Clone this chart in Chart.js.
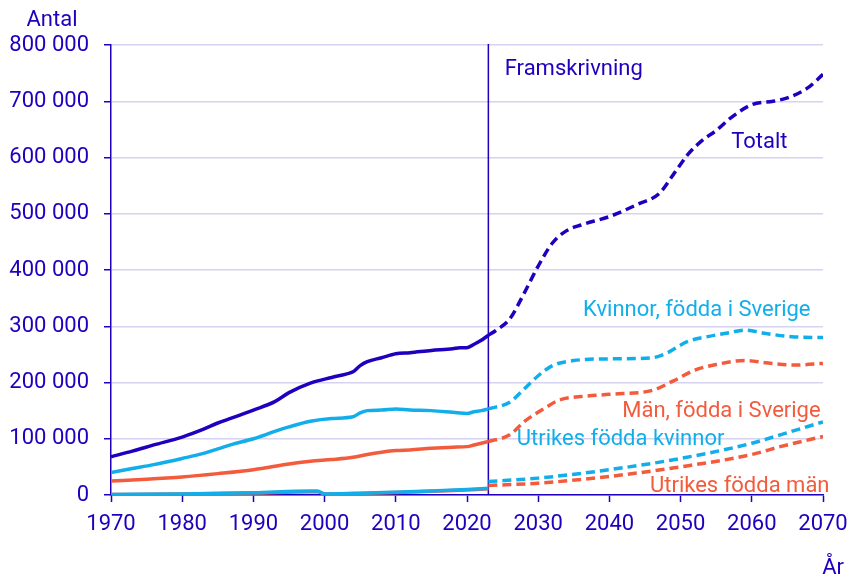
<!DOCTYPE html>
<html>
<head>
<meta charset="utf-8">
<script src="https://cdn.jsdelivr.net/npm/chart.js@4"></script>
<style>
  html, body { margin: 0; padding: 0; background: #ffffff; }
  canvas { display: block; }
</style>
</head>
<body>
<canvas id="c" width="847" height="575"></canvas>
<script>
// ---- Data ----
const xTickYears = [1970, 1980, 1990, 2000, 2010, 2020, 2030, 2040, 2050, 2060, 2070];
const yTickValues = [0, 100000, 200000, 300000, 400000, 500000, 600000, 700000, 800000];
const projectionStartYear = 2023;

// Historical (solid)
const totalHistYears  = [1970,1973,1976,1980,1983,1985,1987,1990,1993,1995,1998,2001,2003,2004,2005,2006,2008,2010,2012,2015,2018,2019,2020,2021,2022,2023];
const totalHist       = [68000,78000,89000,103000,117000,128000,137000,151000,166000,182000,199000,209000,215000,219000,230000,237000,244000,251000,253000,257000,260000,262000,262000,268000,275000,284000];

const womenHistYears  = [1970,1973,1976,1980,1983,1985,1987,1990,1993,1995,1998,2001,2004,2005,2006,2008,2010,2012,2015,2018,2020,2021,2022,2023];
const womenHist       = [40000,47000,54000,65000,74000,82000,90000,100000,113000,121000,131000,136000,139000,146000,150000,151000,153000,151000,150000,147000,145000,148000,150000,153000];

const menHistYears    = [1970,1975,1980,1985,1990,1993,1995,1998,2001,2004,2006,2008,2010,2012,2015,2018,2020,2021,2022,2023];
const menHist         = [25000,28000,32000,38000,45000,51000,55000,60000,63000,67000,72000,76000,79000,80000,83000,85000,86000,89000,92000,95000];

const fbWomenHistYears = [1970,1980,1990,1998,1999,2000,2005,2010,2015,2020,2023];
const fbWomenHist      = [1000,2000,4000,7000,7000,2000,3000,5000,7000,10000,12000];

const fbMenHistYears   = [1970,1980,1990,1998,1999,2000,2005,2010,2015,2020,2023];
const fbMenHist        = [800,1800,3500,6000,6000,1800,2800,4500,6500,9000,11000];

// Projection (dashed)
const totalProjYears  = [2023,2024,2026,2028,2030,2032,2034,2036,2040,2044,2047,2049,2051,2053,2055,2057,2060,2063,2065,2068,2070];
const totalProj       = [284000,292000,313000,358000,407000,448000,470000,480000,495000,517000,536000,570000,605000,630000,648000,670000,694000,700000,706000,725000,748000];

const womenProjYears  = [2023,2026,2028,2030,2032,2035,2040,2046,2048,2051,2054,2057,2059,2062,2066,2070];
const womenProj       = [153000,165000,188000,212000,230000,239000,242000,244000,252000,273000,282000,289000,293000,287000,281000,280000];

const menProjYears    = [2023,2026,2028,2031,2033,2036,2040,2046,2049,2052,2055,2059,2062,2066,2070];
const menProj         = [95000,107000,130000,155000,169000,175000,179000,186000,203000,222000,232000,239000,235000,231000,234000];

const fbWomenProjYears = [2023,2030,2040,2050,2060,2064,2070];
const fbWomenProj      = [24000,30000,45000,65000,92000,107000,130000];

const fbMenProjYears   = [2023,2030,2040,2050,2060,2064,2070];
const fbMenProj        = [17000,21000,33000,50000,72000,86000,104000];

// Series labels drawn in the plot (anchored in data space)
const seriesLabels     = ["Framskrivning", "Totalt", "Kvinnor, födda i Sverige", "Män, födda i Sverige", "Utrikes födda kvinnor", "Utrikes födda män"];
const seriesLabelYears = [2025.3, 2057.1, 2036.3, 2041.8, 2027.0, 2045.7];
const seriesLabelVals  = [756000, 627000, 328000, 148000, 98000, 14500];

const yAxisTitle = "Antal";
const xAxisTitle = "År";

// ---- Styling ----
const DARK = '#1e00be';
const LIGHT = '#12aeea';
const RED = '#f35b3d';
const GRID = '#d5d3f0';
const FONT = 'Roboto';
const FS = 22;
const labelColors = [DARK, DARK, LIGHT, RED, LIGHT, RED];

function pts(xs, ys) { return xs.map((x, i) => ({ x: x, y: ys[i] })); }

function ds(xs, ys, color, dashed) {
  return {
    data: pts(xs, ys),
    borderColor: color,
    backgroundColor: color,
    borderWidth: 3.5,
    borderDash: dashed ? [9, 5] : [],
    borderCapStyle: 'butt',
    pointRadius: 0,
    tension: 0.35,
    cubicInterpolationMode: 'monotone',
    fill: false
  };
}

const overlay = {
  id: 'overlay',
  beforeDatasetsDraw(chart) {
    const { ctx, chartArea, scales } = chart;
    const x = scales.x.getPixelForValue(projectionStartYear);
    ctx.save();
    ctx.strokeStyle = DARK;
    ctx.lineWidth = 1.5;
    ctx.beginPath();
    ctx.moveTo(x, chartArea.top - 1);
    ctx.lineTo(x, chartArea.bottom);
    ctx.stroke();
    ctx.restore();
  },
  afterDatasetsDraw(chart) {
    const { ctx, scales } = chart;
    ctx.save();
    ctx.font = FS + 'px ' + FONT;
    ctx.textAlign = 'left';
    ctx.textBaseline = 'middle';
    seriesLabels.forEach((t, i) => {
      ctx.fillStyle = labelColors[i];
      ctx.fillText(t, scales.x.getPixelForValue(seriesLabelYears[i]), scales.y.getPixelForValue(seriesLabelVals[i]));
    });
    ctx.restore();
  },
  afterDraw(chart) {
    const { ctx } = chart;
    ctx.save();
    ctx.font = FS + 'px ' + FONT;
    ctx.fillStyle = DARK;
    ctx.textBaseline = 'middle';
    ctx.textAlign = 'center';
    ctx.fillText(yAxisTitle, 52, 20);
    ctx.textAlign = 'right';
    ctx.textBaseline = 'alphabetic';
    ctx.fillText(xAxisTitle, 844, 574);
    ctx.restore();
  }
};

new Chart(document.getElementById('c'), {
  type: 'line',
  data: {
    datasets: [
      ds(totalProjYears, totalProj, DARK, true),
      ds(womenProjYears, womenProj, LIGHT, true),
      ds(menProjYears, menProj, RED, true),
      ds(fbWomenProjYears, fbWomenProj, LIGHT, true),
      ds(fbMenProjYears, fbMenProj, RED, true),
      ds(totalHistYears, totalHist, DARK, false),
      ds(womenHistYears, womenHist, LIGHT, false),
      ds(menHistYears, menHist, RED, false),
      ds(fbWomenHistYears, fbWomenHist, LIGHT, false),
      ds(fbMenHistYears, fbMenHist, RED, false)
    ]
  },
  options: {
    responsive: false,
    animation: false,
    layout: { padding: { top: 45, right: 24, bottom: 0, left: 0 } },
    plugins: { legend: { display: false }, tooltip: { enabled: false } },
    scales: {
      x: {
        type: 'linear',
        min: 1970, max: 2070,
        afterBuildTicks(scale) { scale.ticks = xTickYears.map(v => ({ value: v })); },
        afterFit(scale) { scale.height = 80; scale.paddingLeft = 0; scale.paddingRight = 0; },
        grid: { drawOnChartArea: false, drawTicks: true, tickLength: 7, tickColor: DARK, tickWidth: 1.5 },
        border: { display: true, color: DARK, width: 1.5 },
        ticks: { color: DARK, font: { family: FONT, size: FS }, padding: 9, maxRotation: 0, callback: v => String(v) }
      },
      y: {
        min: 0, max: 800000,
        afterBuildTicks(scale) { scale.ticks = yTickValues.map(v => ({ value: v })); },
        afterFit(scale) { scale.width = 111; scale.paddingTop = 0; scale.paddingBottom = 0; },
        grid: { color: GRID, lineWidth: 1.5, drawTicks: true, tickLength: 7, tickColor: DARK, tickWidth: 1.5 },
        border: { display: true, color: DARK, width: 1.5 },
        ticks: {
          color: DARK, font: { family: FONT, size: FS }, padding: 15,
          callback: v => String(v).replace(/\B(?=(\d{3})+(?!\d))/g, ' ')
        }
      }
    }
  },
  plugins: [overlay]
});
</script>
</body>
</html>
